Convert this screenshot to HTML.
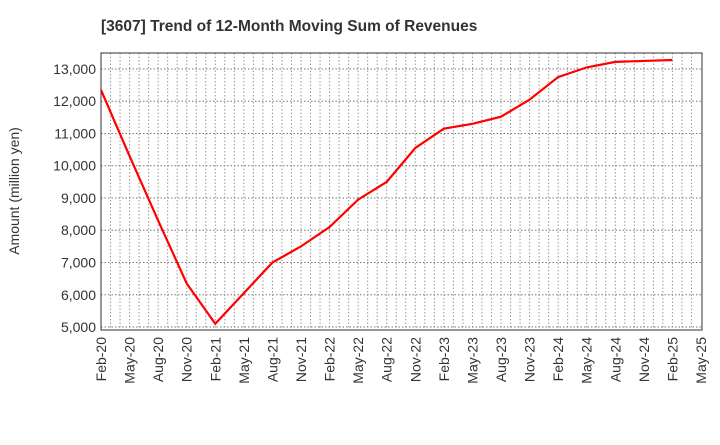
<!DOCTYPE html>
<html><head><meta charset="utf-8"><style>
body{margin:0;background:#fff;font-family:"Liberation Sans",Arial,sans-serif}
svg text{font-family:"Liberation Sans",Arial,sans-serif}
</style></head><body>
<svg id="chart" width="720" height="440" viewBox="0 0 720 440">
<text x="101" y="31" text-anchor="start" font-size="15.5" font-weight="bold" fill="#333">[3607]  Trend of 12-Month Moving Sum of Revenues</text>
<text transform="translate(19,191) rotate(-90)" text-anchor="middle" font-size="14" fill="#333">Amount (million yen)</text>
<g id="grid"></g>
<g id="yticks"></g>
<g id="xticks"></g>
<rect x="101" y="53" width="601" height="277" fill="none" stroke="#333" stroke-width="1"/>
<polyline id="line" fill="none" stroke="#ff0000" stroke-width="2.2"/>
</svg>
<script>
const xLabels=["Feb-20","May-20","Aug-20","Nov-20","Feb-21","May-21","Aug-21","Nov-21","Feb-22","May-22","Aug-22","Nov-22","Feb-23","May-23","Aug-23","Nov-23","Feb-24","May-24","Aug-24","Nov-24","Feb-25","May-25"];
const values=[12350,10300,8300,6350,5100,6050,7000,7500,8100,8950,9500,10550,11150,11300,11520,12050,12750,13050,13220,13250,13280];
const yTicks=[5000,6000,7000,8000,9000,10000,11000,12000,13000];
const X0=101,X1=701,MONTHS=63,Y0=4907,Y1=13496,PT=53,PB=330;
const xs=m=>X0+(X1-X0)*m/MONTHS;
const ys=v=>PB-(v-Y0)/(Y1-Y0)*(PB-PT);
const NS="http://www.w3.org/2000/svg";
const grid=document.getElementById('grid'),yg=document.getElementById('yticks'),xg=document.getElementById('xticks');
for(let m=1;m<MONTHS;m++){
 const l=document.createElementNS(NS,'line');
 l.setAttribute('x1',xs(m));l.setAttribute('x2',xs(m));l.setAttribute('y1',PT);l.setAttribute('y2',PB);
 l.setAttribute('stroke','#999');l.setAttribute('stroke-dasharray','1.5,2');
 
 
 grid.appendChild(l);
}
yTicks.forEach(v=>{
 const l=document.createElementNS(NS,'line');
 l.setAttribute('x1',X0);l.setAttribute('x2',X1);l.setAttribute('y1',ys(v));l.setAttribute('y2',ys(v));
 l.setAttribute('stroke','#777');l.setAttribute('stroke-dasharray','1.5,2');
 
 
 grid.appendChild(l);
 const t=document.createElementNS(NS,'text');
 t.setAttribute('x',X0-5);t.setAttribute('y',ys(v)+5);t.setAttribute('text-anchor','end');t.setAttribute('font-size','14');t.setAttribute('fill','#333');
 t.textContent=v.toLocaleString('en-US');
 
 
 yg.appendChild(t);
});
xLabels.forEach((s,i)=>{
 const x=xs(i*3);
 const t=document.createElementNS(NS,'text');
 t.setAttribute('transform',`translate(${x+5},${PB+7}) rotate(-90)`);t.setAttribute('text-anchor','end');t.setAttribute('font-size','14');t.setAttribute('fill','#333');
 t.textContent=s;
 
 
 xg.appendChild(t);
});
document.getElementById('line').setAttribute('points',values.map((v,i)=>xs(i*3)+','+ys(v)).join(' '));
</script>
</body></html>
